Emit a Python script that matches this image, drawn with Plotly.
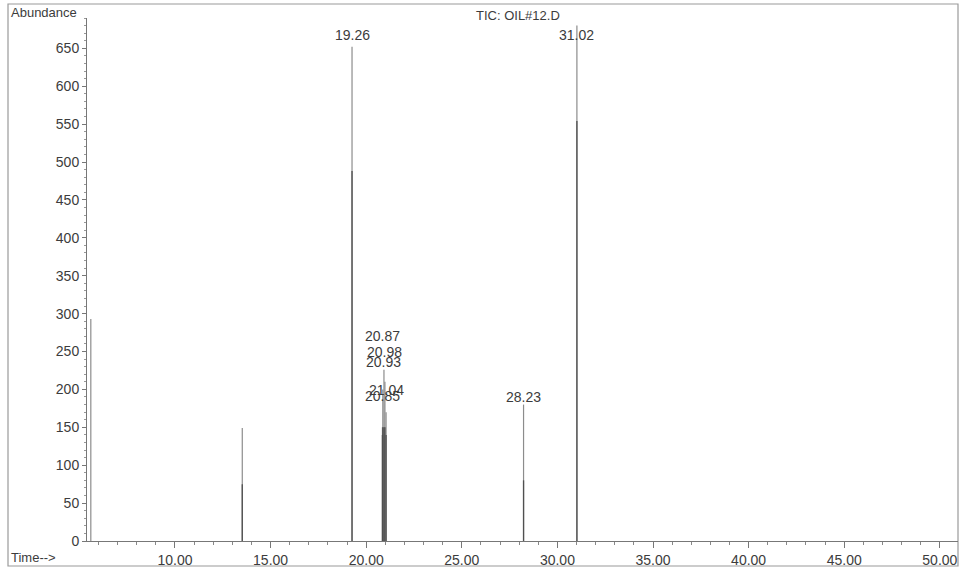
import plotly.graph_objects as go

# ---- data ----
peak_rt = [5.60, 13.52, 19.26, 20.85, 20.87, 20.93, 20.98, 21.04, 28.23, 31.02]
peak_height = [293, 149, 652, 150, 200, 226, 210, 170, 180, 680]
peak_body = [0, 75, 488, 140, 150, 150, 150, 140, 80, 554]
labelled_rt = ["19.26", "20.87", "20.98", "20.93", "21.04", "20.85", "28.23", "31.02"]
x_tick_vals = [10, 15, 20, 25, 30, 35, 40, 45, 50]
x_tick_text = ["10.00", "15.00", "20.00", "25.00", "30.00", "35.00", "40.00", "45.00", "50.00"]
y_tick_vals = [0, 50, 100, 150, 200, 250, 300, 350, 400, 450, 500, 550, 600, 650]
title_text = "TIC: OIL#12.D"

# ---- build stick traces ----
def sticks(rts, hs):
    xs, ys = [], []
    for r, h in zip(rts, hs):
        xs += [r, r, None]
        ys += [0, h, None]
    return xs, ys

fig = go.Figure()
xs, ys = sticks(peak_rt, peak_height)
fig.add_trace(go.Scatter(x=xs, y=ys, mode="lines", line=dict(color="#8c8c8c", width=1.2),
                         hoverinfo="skip", showlegend=False))
xb, yb = sticks(peak_rt, peak_body)
fig.add_trace(go.Scatter(x=xb, y=yb, mode="lines", line=dict(color="#505050", width=1.3),
                         hoverinfo="skip", showlegend=False))

# ---- peak labels (stacked as in the original printout) ----
label_shift = {"19.26": 12, "31.02": -9, "28.23": 8, "20.87": 53, "20.98": 30,
               "20.93": 8, "21.04": 22, "20.85": 31}
FONT = "Liberation Sans, Arial, sans-serif"
font_lbl = dict(family=FONT, size=14, color="#3c3c3c")
lookup = {f"{r:.2f}": h for r, h in zip(peak_rt, peak_height)}
for lab in labelled_rt:
    fig.add_annotation(x=float(lab), y=lookup[lab], text=lab, showarrow=False,
                       xanchor="center", yanchor="middle", yshift=label_shift[lab],
                       font=font_lbl, bgcolor="rgba(0,0,0,0)")

W, H = 963, 575
L, R, T, B = 87, 5, 18, 34
pw, ph = W - L - R, H - T - B

def px_x(p):
    return (p - L) / pw

def px_y(p):
    return (H - B - p) / ph

font_txt = dict(family=FONT, size=13, color="#3c3c3c")
fig.add_annotation(xref="paper", yref="paper", x=px_x(9), y=px_y(12), text="Abundance",
                   showarrow=False, xanchor="left", yanchor="middle", font=font_txt)
fig.add_annotation(xref="paper", yref="paper", x=px_x(9), y=px_y(557), text="Time-->",
                   showarrow=False, xanchor="left", yanchor="middle", font=font_txt)
fig.add_annotation(xref="paper", yref="paper", x=px_x(518), y=px_y(15), text=title_text,
                   showarrow=False, xanchor="center", yanchor="middle", font=font_txt)

# outer frame
fig.add_shape(type="rect", xref="paper", yref="paper",
              x0=px_x(8), x1=px_x(958), y0=px_y(566), y1=px_y(4),
              line=dict(color="#9a9a9a", width=1.2), layer="below")

tick_font = dict(family=FONT, size=14, color="#3c3c3c")
fig.update_layout(
    width=W, height=H,
    margin=dict(l=L, r=R, t=T, b=B),
    paper_bgcolor="white", plot_bgcolor="white",
    showlegend=False,
    xaxis=dict(range=[5.40, 50.95], tickvals=x_tick_vals, ticktext=x_tick_text,
               ticks="outside", ticklen=6, tickcolor="#777", tickwidth=1,
               minor=dict(dtick=1, tick0=0, ticks="outside", ticklen=3, tickcolor="#888"),
               showline=True, linecolor="#777", linewidth=1, showgrid=False, zeroline=False,
               tickfont=tick_font),
    yaxis=dict(range=[0, 690], tickvals=y_tick_vals,
               ticks="outside", ticklen=4, tickcolor="#777", tickwidth=1,
               minor=dict(dtick=10, tick0=0, ticks="outside", ticklen=2, tickcolor="#999"),
               showline=True, linecolor="#777", linewidth=1, showgrid=False, zeroline=False,
               tickfont=tick_font),
)

fig.write_html("out.html", config={"displayModeBar": False},
               post_script="document.body.style.margin='0';document.body.style.overflow='hidden';")
